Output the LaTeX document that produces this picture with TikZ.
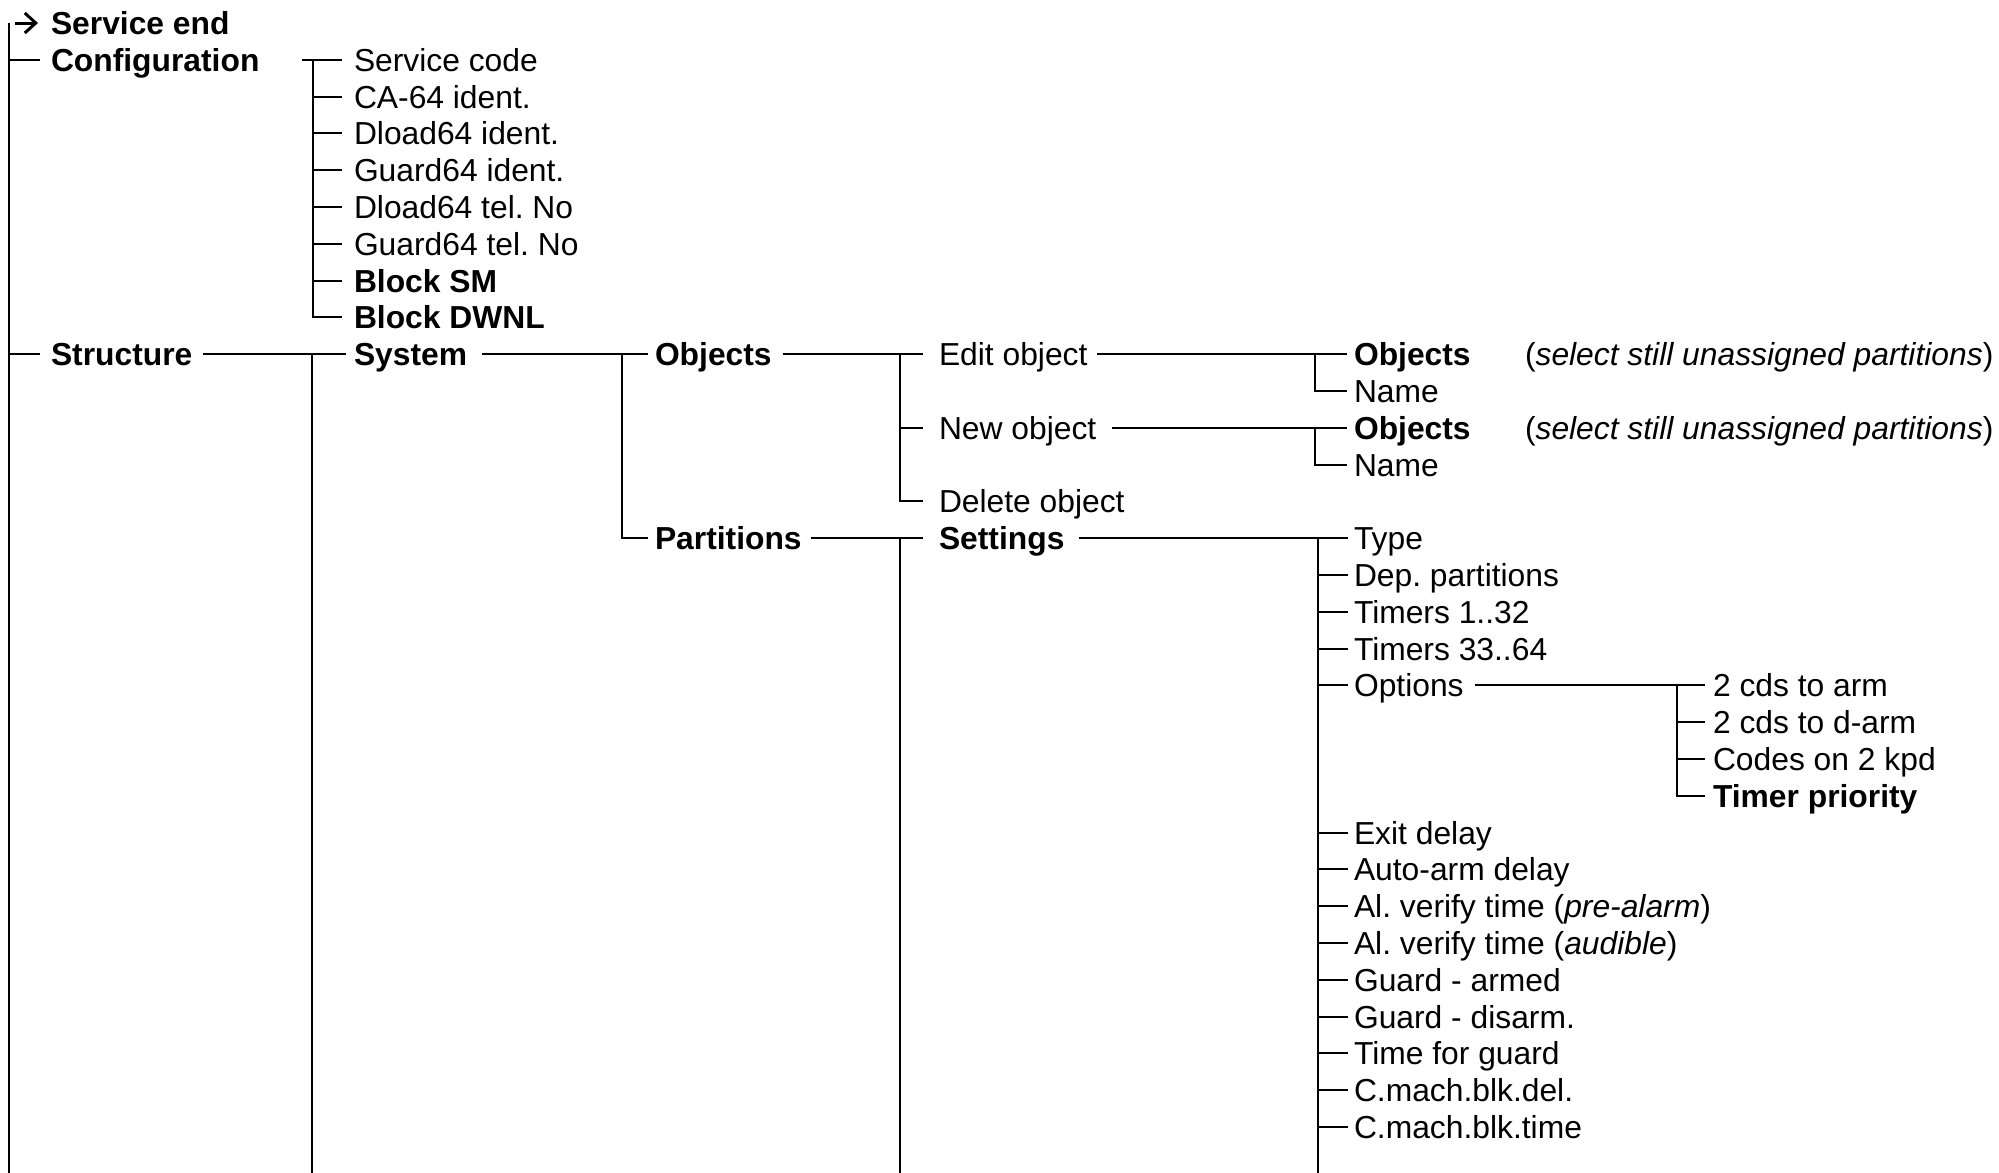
\documentclass[tikz,border=0pt]{standalone}
\usepackage{fontspec}
\setmainfont{Liberation Sans}
\usetikzlibrary{arrows.meta,calc}
\frenchspacing

\begin{document}
\begin{tikzpicture}[
    x=0.5pt, y=-0.5pt, line width=1pt,
    item/.style={anchor=west, inner sep=0pt, text height=11.4pt, text depth=0pt, font=\fontsize{15.9}{18}\selectfont},
    head/.style={item, font=\fontsize{15.9}{18}\selectfont\bfseries}
  ]
  \useasboundingbox (0,0) rectangle (1999,1173);

  % Main column
  \coordinate (top) at (9,23);
  \coordinate (bot) at (9,1173);
  \node[head] (svcend) at (50,23) {Service end};
  \node[head] (config) at (50,59.8) {Configuration};
  \node[head] (struct) at (50,354.2) {Structure};
  \draw (top) -- (bot);
  \draw[line width=1.5pt, -{Straight Barb[length=5.5pt, width=10pt]}] ([xshift=3pt]top) -- ([xshift=-6pt]svcend.west);
  \foreach \n in {config,struct}
    \draw (top |- \n.west) -- ([xshift=-5pt]\n.west);

  % Configuration
  \node[item] (svccode) at (353,59.8) {Service code};
  \node[item] (caid) at (353,96.6) {CA-64 ident.};
  \node[item] (dlid) at (353,133.4) {Dload64 ident.};
  \node[item] (gdid) at (353,170.2) {Guard64 ident.};
  \node[item] (dltel) at (353,207) {Dload64 tel. No};
  \node[item] (gdtel) at (353,243.8) {Guard64 tel. No};
  \node[head] (blksm) at (353,280.6) {Block SM};
  \node[head] (blkdw) at (353,317.4) {Block DWNL};
  \coordinate (jcfg) at (313,0);
  \draw ([xshift=21pt]config.east) -- ([xshift=-5.5pt]svccode.west);
  \foreach \n in {caid,dlid,gdid,dltel,gdtel,blksm,blkdw}
    \draw (jcfg |- svccode.west) |- ([xshift=-5.5pt]\n.west);

  % Structure
  \node[head] (system) at (353,354.2) {System};
  \coordinate (jsys) at (312,0);
  \draw ([xshift=5pt]struct.east) -- ([xshift=-3.5pt]system.west);
  \draw (jsys |- system.west) -- (jsys |- bot);

  % System
  \node[head] (objects) at (654,354.2) {Objects};
  \node[head] (parts) at (654,538.2) {Partitions};
  \coordinate (jobj) at (622,0);
  \draw ([xshift=7pt]system.east) -- ([xshift=-3pt]objects.west);
  \draw (jobj |- objects.west) |- ([xshift=-3pt]parts.west);

  % Objects
  \node[item] (editobj) at (938,354.2) {Edit object};
  \node[item] (newobj) at (938,427.8) {New object};
  \node[item] (delobj) at (938,501.4) {Delete object};
  \coordinate (jedt) at (900,0);
  \draw ([xshift=5pt]objects.east) -- ([xshift=-7.5pt]editobj.west);
  \foreach \n in {newobj,delobj}
    \draw (jedt |- editobj.west) |- ([xshift=-7.5pt]\n.west);

  % Partitions
  \node[head] (settings) at (938,538.2) {Settings};
  \draw ([xshift=4pt]parts.east) -- ([xshift=-7.5pt]settings.west);
  \draw (jedt |- settings.west) -- (jedt |- bot);

  % Edit object / New object
  \node[head] (eobj) at (1353,354.2) {Objects};
  \node[item] (ename) at (1353,391) {Name};
  \node[item] (enote) at (1524,354.2) {(\textit{select still unassigned partitions})};
  \node[head] (nobj) at (1353,427.8) {Objects};
  \node[item] (nname) at (1353,464.6) {Name};
  \node[item] (nnote) at (1524,427.8) {(\textit{select still unassigned partitions})};
  \coordinate (jeo) at (1315,0);
  \draw ([xshift=4.5pt]editobj.east) -- ([xshift=-3pt]eobj.west);
  \draw (jeo |- eobj.west) |- ([xshift=-3pt]ename.west);
  \draw ([xshift=7.5pt]newobj.east) -- ([xshift=-3pt]nobj.west);
  \draw (jeo |- nobj.west) |- ([xshift=-3pt]nname.west);

  % Settings
  \node[item] (stype) at (1353,538.2) {Type};
  \node[item] (sdep) at (1353,575) {Dep. partitions};
  \node[item] (stma) at (1353,611.8) {Timers 1..32};
  \node[item] (stmb) at (1353,648.6) {Timers 33..64};
  \node[item] (sopt) at (1353,685.4) {Options};
  \node[item] (sexit) at (1353,832.6) {Exit delay};
  \node[item] (sauto) at (1353,869.4) {Auto-arm delay};
  \node[item] (svera) at (1353,906.2) {Al. verify time (\textit{pre-alarm})};
  \node[item] (sverb) at (1353,943) {Al. verify time (\textit{audible})};
  \node[item] (sgarm) at (1353,979.8) {Guard - armed};
  \node[item] (sgdis) at (1353,1016.6) {Guard - disarm.};
  \node[item] (sgtime) at (1353,1053.4) {Time for guard};
  \node[item] (scdel) at (1353,1090.2) {C.mach.blk.del.};
  \node[item] (sctime) at (1353,1127) {C.mach.blk.time};
  \coordinate (jset) at (1318,0);
  \draw ([xshift=7pt]settings.east) -- ([xshift=-2.5pt]stype.west);
  \foreach \n in {sdep,stma,stmb,sopt,sexit,sauto,svera,sverb,sgarm,sgdis,sgtime,scdel,sctime}
    \draw (jset |- stype.west) |- ([xshift=-2.5pt]\n.west);
  \draw (jset |- stype.west) -- (jset |- bot);

  % Options
  \node[item] (oarm) at (1712,685.4) {2 cds to arm};
  \node[item] (odarm) at (1712,722.2) {2 cds to d-arm};
  \node[item] (okpd) at (1712,759) {Codes on 2 kpd};
  \node[head] (oprio) at (1712,795.8) {Timer priority};
  \coordinate (jopt) at (1677,0);
  \draw ([xshift=5pt]sopt.east) -- ([xshift=-3.5pt]oarm.west);
  \foreach \n in {odarm,okpd,oprio}
    \draw (jopt |- oarm.west) |- ([xshift=-3.5pt]\n.west);
\end{tikzpicture}
\end{document}
